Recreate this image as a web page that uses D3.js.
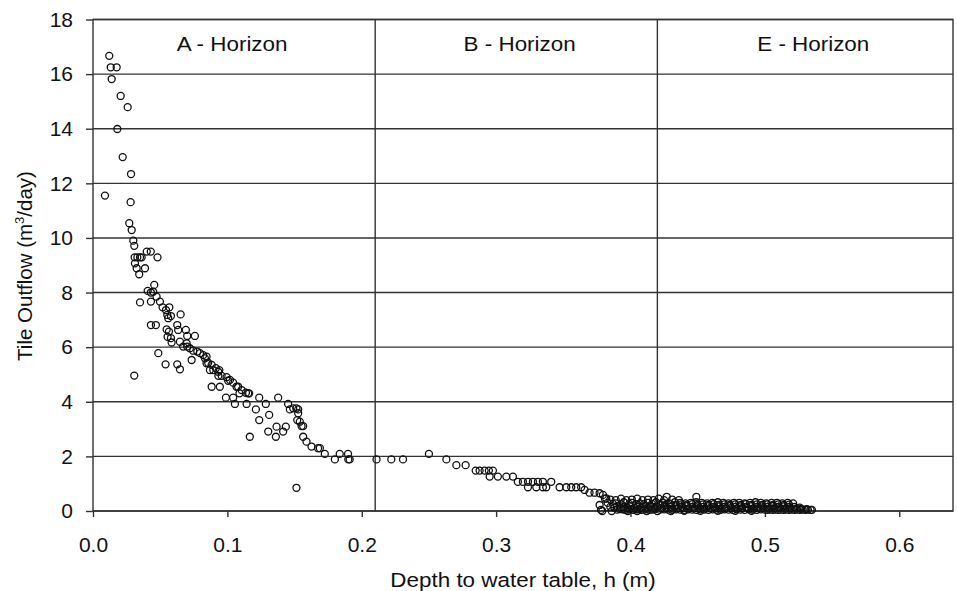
<!DOCTYPE html>
<html>
<head>
<meta charset="utf-8">
<script src="https://cdn.jsdelivr.net/npm/d3@7"></script>
<style>
  html, body { margin: 0; padding: 0; background: #fff; }
  svg { display: block; font-family: "Liberation Sans", Arial, sans-serif; }
</style>
</head>
<body>
<svg id="chart" width="957" height="591"></svg>
<script>
// ---- data ----
const xTicks = [0.0, 0.1, 0.2, 0.3, 0.4, 0.5, 0.6];
const yTicks = [0, 2, 4, 6, 8, 10, 12, 14, 16, 18];
const horizonBounds = [0.21, 0.42];
const horizonLabels = ["A - Horizon", "B - Horizon", "E - Horizon"];
const horizonLabelX = [0.1035, 0.3175, 0.536];

// [depth (m), tile outflow (m3/day)]
const pointsA = [
  [0.0121,16.67],[0.0132,16.25],[0.0176,16.25],[0.0139,15.82],[0.0206,15.2],[0.0258,14.79],
  [0.0181,13.99],[0.0221,12.96],[0.0283,12.34],[0.0089,11.55],[0.028,11.31],[0.027,10.54],
  [0.0288,10.29],[0.030,9.9],[0.0307,9.71],[0.031,9.29],[0.033,9.29],[0.035,9.29],[0.0362,9.29],
  [0.040,9.5],[0.043,9.5],[0.048,9.29],[0.0312,9.07],[0.0325,8.89],[0.0387,8.89],[0.0344,8.67],
  [0.0456,8.28],[0.0407,8.06],[0.0431,8.0],[0.0448,8.03],[0.035,7.64],[0.0431,7.67],[0.0473,7.85],
  [0.0498,7.67],[0.0518,7.46],[0.0543,7.36],[0.0568,7.46],[0.0553,7.18],[0.058,7.14],[0.056,7.06],
  [0.0652,7.2],[0.0431,6.81],[0.0468,6.81],[0.0548,6.65],[0.0565,6.57],[0.0555,6.38],[0.058,6.33],
  [0.0585,6.17],[0.0627,6.81],[0.0634,6.63],[0.0691,6.63],[0.0701,6.41],[0.0758,6.41],[0.0486,5.78],
  [0.054,5.37],[0.0627,5.37],[0.0647,5.19],[0.0307,4.96],
  [0.0647,6.2],[0.0671,6.02],[0.0697,6.14],[0.0701,6.02],[0.0721,5.96],[0.0746,5.87],[0.0776,5.84],
  [0.0734,5.53],[0.0796,5.78],[0.082,5.71],[0.0833,5.59],[0.0845,5.65],[0.0845,5.41],[0.0857,5.43],
  [0.0883,5.35],[0.087,5.16],[0.0895,5.16],[0.0914,5.23],[0.0932,5.1],[0.094,5.16],[0.0933,4.95],
  [0.0957,4.95],[0.0994,4.9],[0.1006,4.77],[0.1019,4.8],[0.1043,4.7],[0.1068,4.55],[0.108,4.55],
  [0.109,4.31],[0.1106,4.43],[0.1138,4.33],[0.1155,4.31],[0.1162,4.31],[0.0883,4.55],[0.0944,4.55],
  [0.0989,4.15],[0.1043,4.15],[0.1056,3.92],[0.1143,3.92],[0.1212,3.72],[0.1237,4.15],[0.1286,3.92],
  [0.1378,4.15],[0.1237,3.33],[0.1311,3.52],[0.1304,2.91],[0.1366,3.09],[0.1435,3.09],[0.1361,2.72],
  [0.1167,2.72],[0.1415,2.91],[0.1452,3.92],[0.1465,3.72],[0.149,3.76],[0.1514,3.76],[0.1527,3.58],
  [0.1527,3.72],[0.152,3.33],[0.1539,3.27],[0.1552,3.11],[0.1564,3.11],[0.1564,2.72],[0.1589,2.54],
  [0.1626,2.36],[0.1675,2.3],[0.1688,2.3],[0.1725,2.09],[0.18,1.89],[0.1836,2.09],[0.1898,2.09],
  [0.19,1.89],[0.191,1.89],[0.1514,0.85]
];

const pointsB = [
  [0.211,1.89],[0.222,1.89],[0.2307,1.89],[0.25,2.09],[0.263,1.89],[0.2704,1.68],[0.2773,1.68],
  [0.2848,1.48],[0.2877,1.48],[0.2914,1.48],[0.2946,1.48],[0.2976,1.48],[0.2952,1.26],[0.3013,1.26],
  [0.3076,1.26],[0.3125,1.26],[0.3162,1.07],[0.3199,1.07],[0.3237,1.07],[0.3274,1.07],[0.3311,1.07],
  [0.3348,1.07],[0.341,1.07],[0.3237,0.87],[0.3299,0.87],[0.3348,0.87],[0.3373,0.87],[0.3472,0.87],
  [0.3522,0.87],[0.3559,0.87],[0.3596,0.87],[0.3633,0.87],[0.3658,0.77],[0.3695,0.67],[0.3732,0.67],
  [0.377,0.65],[0.3795,0.59],[0.382,0.46],[0.377,0.22],[0.378,0.04],
  [0.381,0.45],[0.385,0.42],[0.389,0.40],[0.393,0.45],[0.397,0.40],[0.401,0.42],[0.405,0.45],
  [0.409,0.40],[0.413,0.42],[0.417,0.40],
  [0.383,0.30],[0.387,0.26],[0.389,0.28],[0.393,0.25],[0.395,0.32],[0.399,0.26],[0.401,0.30],
  [0.404,0.25],[0.407,0.28],[0.410,0.25],[0.413,0.30],[0.416,0.26],[0.419,0.32],
  [0.385,0.15],[0.388,0.12],[0.390,0.18],[0.393,0.12],[0.395,0.15],[0.398,0.11],[0.400,0.17],
  [0.403,0.12],[0.405,0.15],[0.408,0.11],[0.410,0.18],[0.413,0.12],[0.415,0.15],[0.418,0.11],
  [0.390,0.05],[0.392,0.07],[0.394,0.06],[0.396,0.04],[0.398,0.05],[0.400,0.07],[0.402,0.04],
  [0.404,0.06],[0.406,0.06],[0.408,0.04],[0.410,0.05],[0.412,0.07],[0.414,0.04],[0.416,0.05],
  [0.418,0.06],[0.379,0.0],[0.386,0.0],[0.398,0.0],[0.405,0.0],[0.412,0.0]
];

const pointsE = [
  [0.421,0.45],[0.427,0.52],[0.449,0.52],[0.425,0.40],[0.431,0.42],[0.436,0.40],
  [0.424,0.30],[0.429,0.28],[0.433,0.32],[0.437,0.30],[0.441,0.28],[0.445,0.30],[0.449,0.32],
  [0.453,0.30],[0.457,0.28],[0.461,0.30],[0.465,0.32],[0.469,0.30],[0.473,0.28],[0.477,0.30],
  [0.481,0.30],[0.485,0.28],[0.489,0.30],[0.493,0.32],[0.497,0.30],[0.501,0.28],[0.505,0.30],
  [0.509,0.30],[0.513,0.28],[0.517,0.30],[0.521,0.28],
  [0.422,0.24],[0.426,0.22],[0.430,0.25],[0.434,0.22],[0.438,0.24],[0.442,0.22],[0.446,0.25],
  [0.450,0.22],[0.454,0.24],[0.458,0.22],[0.462,0.25],[0.466,0.22],[0.470,0.24],[0.474,0.22],
  [0.478,0.24],[0.482,0.22],[0.486,0.25],[0.490,0.22],[0.494,0.24],[0.498,0.22],[0.502,0.24],
  [0.506,0.22],[0.510,0.24],[0.514,0.22],[0.518,0.23],
  [0.420,0.15],[0.425,0.18],[0.430,0.15],[0.434,0.17],[0.438,0.15],[0.442,0.18],[0.446,0.15],
  [0.450,0.17],[0.454,0.15],[0.458,0.18],[0.462,0.15],[0.466,0.17],[0.470,0.15],[0.474,0.18],
  [0.478,0.15],[0.482,0.17],[0.486,0.15],[0.490,0.18],[0.494,0.15],[0.498,0.17],[0.502,0.15],
  [0.506,0.18],[0.510,0.15],[0.514,0.17],[0.518,0.15],[0.522,0.15],[0.526,0.12],
  [0.423,0.10],[0.427,0.11],[0.431,0.09],[0.435,0.10],[0.439,0.11],[0.443,0.09],[0.447,0.10],
  [0.451,0.11],[0.455,0.09],[0.459,0.10],[0.463,0.11],[0.467,0.09],[0.471,0.10],[0.475,0.11],
  [0.479,0.09],[0.483,0.10],[0.487,0.11],[0.491,0.09],[0.495,0.10],[0.499,0.11],[0.503,0.09],
  [0.507,0.10],[0.511,0.11],[0.515,0.09],[0.519,0.10],[0.523,0.09],[0.527,0.08],[0.531,0.07],
  [0.422,0.05],[0.425,0.06],[0.428,0.05],[0.431,0.04],[0.434,0.06],[0.437,0.05],[0.440,0.04],
  [0.443,0.06],[0.446,0.05],[0.449,0.04],[0.452,0.06],[0.455,0.05],[0.458,0.04],[0.461,0.06],
  [0.464,0.05],[0.467,0.04],[0.470,0.06],[0.473,0.05],[0.476,0.04],[0.479,0.06],[0.482,0.05],
  [0.485,0.04],[0.488,0.06],[0.491,0.05],[0.494,0.04],[0.497,0.06],[0.500,0.05],[0.502,0.04],
  [0.504,0.05],[0.506,0.04],[0.508,0.05],[0.510,0.04],[0.512,0.05],[0.514,0.04],[0.516,0.05],
  [0.518,0.04],[0.520,0.05],[0.522,0.04],[0.524,0.05],[0.526,0.04],[0.528,0.05],[0.530,0.04],
  [0.532,0.05],[0.534,0.04],[0.535,0.04],
  [0.420,0.0],[0.430,0.0],[0.440,0.01],[0.452,0.01],[0.465,0.01],[0.478,0.01],[0.490,0.01]
];

// ---- layout ----
const svg = d3.select("#chart");
const x = d3.scaleLinear().domain([0, 0.64]).range([93, 953]);
const y = d3.scaleLinear().domain([0, 18]).range([511, 19.5]);
const lineColor = "#333";

// gridlines
svg.append("g").selectAll("line").data(yTicks).join("line")
  .attr("x1", x(0)).attr("x2", x(0.64))
  .attr("y1", d => y(d)).attr("y2", d => y(d))
  .attr("stroke", lineColor).attr("stroke-width", 1.4);

// horizon boundaries
svg.append("g").selectAll("line").data(horizonBounds).join("line")
  .attr("x1", d => x(d)).attr("x2", d => x(d))
  .attr("y1", y(0)).attr("y2", y(18))
  .attr("stroke", lineColor).attr("stroke-width", 1.4);

// frame
svg.append("rect")
  .attr("x", x(0)).attr("y", y(18))
  .attr("width", x(0.64) - x(0)).attr("height", y(0) - y(18))
  .attr("fill", "none").attr("stroke", lineColor).attr("stroke-width", 1.4);

// axes
const xAxis = svg.append("g").attr("transform", `translate(0,${y(0)})`)
  .call(d3.axisBottom(x).tickValues(xTicks).tickFormat(d3.format(".1f")).tickSize(6).tickPadding(20));
const yAxis = svg.append("g").attr("transform", `translate(${x(0)},0)`)
  .call(d3.axisLeft(y).tickValues(yTicks).tickFormat(d3.format("d")).tickSize(7).tickPadding(13));
[xAxis, yAxis].forEach(g => {
  g.select(".domain").remove();
  g.selectAll(".tick line").attr("stroke", lineColor).attr("stroke-width", 1.4);
  g.selectAll(".tick text").attr("fill", "#111")
    .style("font-size", "21px").style("font-family", '"Liberation Sans", Arial, sans-serif');
});

// horizon labels
svg.append("g").selectAll("text").data(horizonLabels).join("text")
  .attr("transform", (d, i) => `translate(${x(horizonLabelX[i])},51) scale(1.15,1)`)
  .attr("text-anchor", "middle")
  .attr("fill", "#111")
  .style("font-size", "19.5px")
  .text(d => d);

// points
const allPoints = pointsA.concat(pointsB, pointsE);
svg.append("g").selectAll("circle").data(allPoints).join("circle")
  .attr("cx", d => x(d[0])).attr("cy", d => y(d[1]))
  .attr("r", 3.5)
  .attr("fill", "none").attr("stroke", "#111").attr("stroke-width", 1.3);

// axis titles
svg.append("text")
  .attr("transform", `translate(523,587) scale(1.15,1)`)
  .attr("text-anchor", "middle").attr("fill", "#111")
  .style("font-size", "19.5px")
  .text("Depth to water table, h (m)");

const yt = svg.append("text")
  .attr("transform", `translate(32,266) rotate(-90)`)
  .attr("text-anchor", "middle").attr("fill", "#111")
  .style("font-size", "20.5px");
yt.append("tspan").text("Tile Outflow (m");
yt.append("tspan").attr("dy", -8).style("font-size", "13px").text("3");
yt.append("tspan").attr("dy", 8).text("/day)");
</script>
</body>
</html>
